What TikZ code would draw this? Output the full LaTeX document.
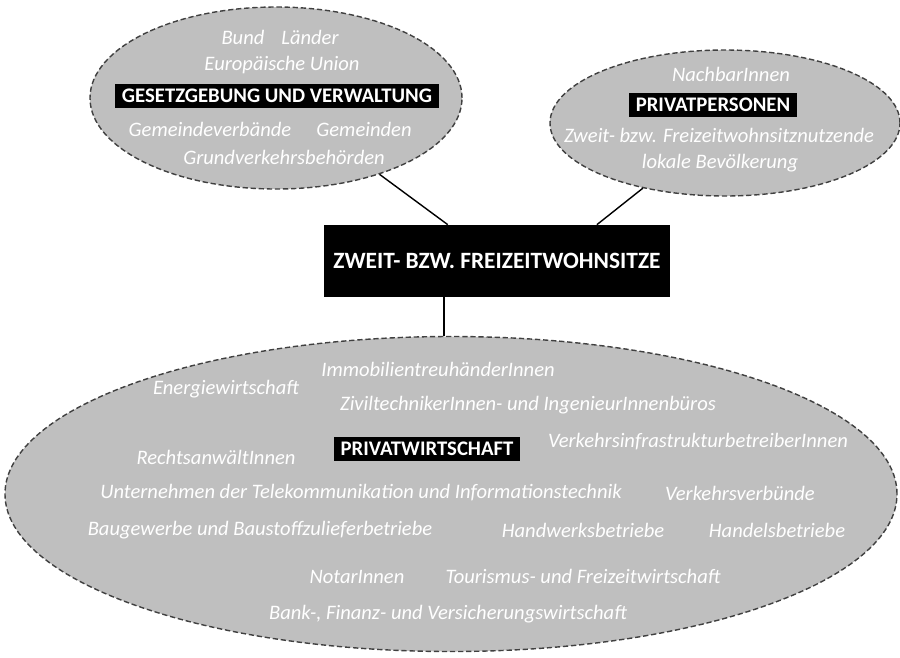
\documentclass[tikz,border=0pt]{standalone}
\usepackage{fontspec}
\setmainfont{Carlito}
\usepackage{tikz}
\usetikzlibrary{shapes,arrows,positioning}
\definecolor{grau}{RGB}{191,191,191}
\tikzstyle{gruppe} = [ellipse, draw=black!75, dash pattern=on 3pt off 1.6pt, line width=0.8pt, fill=grau, inner sep=0pt]
\tikzstyle{titel} = [fill=black, text=white, font=\bfseries\fontsize{11.8}{13}\selectfont, inner xsep=4pt, inner ysep=3pt]
\tikzstyle{akteur} = [text=white, font=\itshape\fontsize{11.7}{13}\selectfont, inner sep=0pt]
\tikzstyle{line} = [draw, line width=0.8pt]

\begin{document}
\begin{tikzpicture}[x=0.2mm, y=-0.2mm]
			\useasboundingbox (0,0) rectangle (900,657);
			\node [gruppe, minimum width=7.44cm, minimum height=3.64cm] (gesetz) at (276,98) {};
			\node [gruppe, minimum width=7cm, minimum height=2.92cm] (privat) at (725,123) {};
			\node [gruppe, minimum width=17.84cm, minimum height=6.3cm] (wirtschaft) at (451,494) {};
			\node [titel, minimum width=6.92cm, minimum height=1.44cm, font=\bfseries\fontsize{13.3}{15}\selectfont] (zentrum) at (497,261) {ZWEIT- BZW. FREIZEITWOHNSITZE};
			
			\node [akteur] (bund) at (243,37) {Bund};
			\node [akteur] (laender) at (310,37) {Länder};
			\node [akteur] (eu) at (282,65) {Europäische Union};
			\node [titel] (gesetztitel) at (277,96) {GESETZGEBUNG UND VERWALTUNG};
			\node [akteur] (verbaende) at (210,129) {Gemeindeverbände};
			\node [akteur] (gemeinden) at (364,129) {Gemeinden};
			\node [akteur] (grundverkehr) at (284,157) {Grundverkehrsbehörden};
			
			\node [akteur] (nachbarn) at (731,74) {NachbarInnen};
			\node [titel] (privattitel) at (713,105) {PRIVATPERSONEN};
			\node [akteur] (nutzende) at (719,135) {Zweit- bzw. Freizeitwohnsitznutzende};
			\node [akteur] (lokal) at (720,163) {lokale Bevölkerung};
			
			\node [akteur] (immo) at (438,369) {ImmobilientreuhänderInnen};
			\node [akteur] (energie) at (226,389) {Energiewirtschaft};
			\node [akteur] (zt) at (528,405) {ZiviltechnikerInnen- und IngenieurInnenbüros};
			\node [titel] (wirtschafttitel) at (427,449) {PRIVATWIRTSCHAFT};
			\node [akteur] (verkehrsinfra) at (698,442) {VerkehrsinfrastrukturbetreiberInnen};
			\node [akteur] (anwaelte) at (216,457) {RechtsanwältInnen};
			\node [akteur] (telekom) at (361,493) {Unternehmen der Telekommunikation und Informationstechnik};
			\node [akteur] (verbuende) at (740,493) {Verkehrsverbünde};
			\node [akteur] (bau) at (260,530) {Baugewerbe und Baustoffzulieferbetriebe};
			\node [akteur] (handwerk) at (583,530) {Handwerksbetriebe};
			\node [akteur] (handel) at (777,530) {Handelsbetriebe};
			\node [akteur] (notare) at (357,577) {NotarInnen};
			\node [akteur] (tourismus) at (583,576) {Tourismus- und Freizeitwirtschaft};
			\node [akteur] (bank) at (448,614) {Bank-, Finanz- und Versicherungswirtschaft};
			
			\path [line] (gesetz) -- (zentrum);
			\path [line] (privat) -- (zentrum.20);
			\path [line] ([xshift=-1.4mm]wirtschaft.north |- zentrum.south) -- ([xshift=-1.4mm]wirtschaft.north);
		\end{tikzpicture}
\end{document}
